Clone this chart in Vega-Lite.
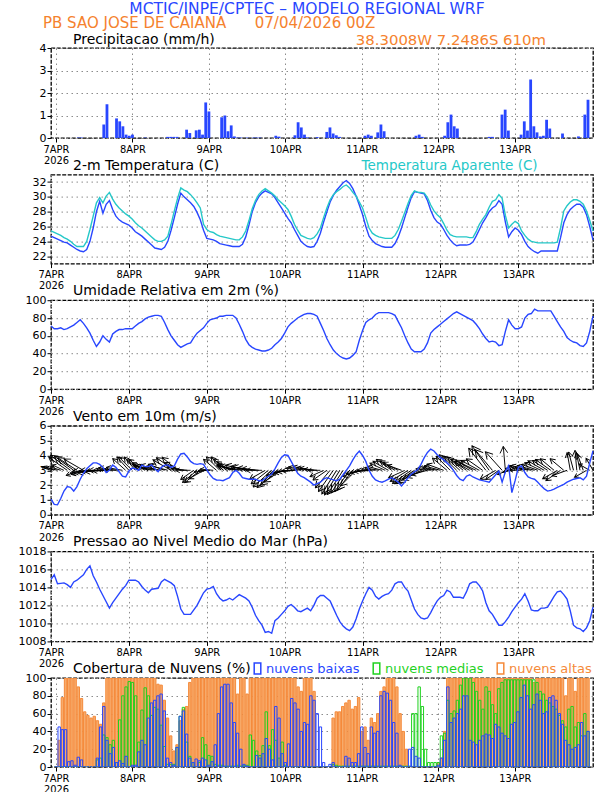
{
"$schema": "https://vega.github.io/schema/vega-lite/v6.json",
"background": "white",
"padding": {"left": 17, "top": 1, "right": 5, "bottom": 2},
"title": {"text": "MCTIC/INPE/CPTEC – MODELO REGIONAL WRF", "anchor": "middle", "frame": "bounds", "color": "#2846ff", "fontSize": 15.5, "dx": 0, "dy": 0, "offset": -2},
"datasets": {"met": [
{"h":0,"pr":0,"t":24.7,"ta":25.4,"rh":71,"ws":1.06,"wd":290,"wm":2,"p":1014.9,"cb":0,"cm":0,"ca":0},
{"h":1,"pr":0,"t":24.5,"ta":25.2,"rh":68,"ws":0.7,"wd":290,"wm":2.2,"p":1015.4,"cb":45,"cm":0,"ca":30},
{"h":2,"pr":0,"t":24.3,"ta":25.0,"rh":68,"ws":0.67,"wd":285,"wm":2.4,"p":1014.4,"cb":42,"cm":0,"ca":78},
{"h":3,"pr":0,"t":24.1,"ta":24.8,"rh":69,"ws":1.1,"wd":288,"wm":2.2,"p":1014.45,"cb":42,"cm":0,"ca":100},
{"h":4,"pr":0,"t":23.9,"ta":24.5,"rh":67,"ws":1.6,"wd":295,"wm":2.6,"p":1014.5,"cb":6,"cm":0,"ca":100},
{"h":5,"pr":0,"t":23.8,"ta":24.3,"rh":68,"ws":1.9,"wd":305,"wm":4.5,"p":1014.3,"cb":7,"cm":0,"ca":100},
{"h":6,"pr":0,"t":23.5,"ta":24.0,"rh":70,"ws":1.85,"wd":307,"wm":5,"p":1014.0,"cb":2,"cm":0,"ca":100},
{"h":7,"pr":0.02,"t":23.2,"ta":23.6,"rh":72,"ws":1.6,"wd":306,"wm":4.8,"p":1014.6,"cb":11,"cm":0,"ca":90},
{"h":8,"pr":0.02,"t":22.9,"ta":23.3,"rh":75,"ws":1.9,"wd":303,"wm":4.6,"p":1014.8,"cb":8,"cm":0,"ca":77},
{"h":9,"pr":0,"t":22.7,"ta":23.3,"rh":78,"ws":2.4,"wd":250,"wm":3,"p":1015.1,"cb":0,"cm":0,"ca":62},
{"h":10,"pr":0,"t":22.6,"ta":23.3,"rh":74,"ws":2.8,"wd":300,"wm":4.5,"p":1015.4,"cb":0,"cm":0,"ca":58},
{"h":11,"pr":0,"t":22.9,"ta":24.0,"rh":69,"ws":3.1,"wd":255,"wm":3.2,"p":1016.0,"cb":0,"cm":0,"ca":55},
{"h":12,"pr":0,"t":24.0,"ta":25.6,"rh":63,"ws":3.3,"wd":262,"wm":4,"p":1016.4,"cb":0,"cm":0,"ca":57},
{"h":13,"pr":0,"t":25.8,"ta":27.4,"rh":55,"ws":3.5,"wd":265,"wm":4.2,"p":1015.3,"cb":10,"cm":8,"ca":52},
{"h":14,"pr":0,"t":28.0,"ta":29.2,"rh":48,"ws":3.5,"wd":262,"wm":3.8,"p":1014.6,"cb":45,"cm":10,"ca":48},
{"h":15,"pr":0.6,"t":29.4,"ta":29.9,"rh":53,"ws":3.4,"wd":268,"wm":4,"p":1013.8,"cb":68,"cm":36,"ca":72},
{"h":16,"pr":1.5,"t":27.8,"ta":29.2,"rh":60,"ws":3.2,"wd":265,"wm":3.6,"p":1013.1,"cb":30,"cm":33,"ca":100},
{"h":17,"pr":0,"t":29.0,"ta":30.1,"rh":56,"ws":2.85,"wd":270,"wm":3.5,"p":1012.4,"cb":15,"cm":25,"ca":100},
{"h":18,"pr":0,"t":29.5,"ta":30.6,"rh":53,"ws":3.0,"wd":268,"wm":3.4,"p":1011.7,"cb":22,"cm":30,"ca":100},
{"h":19,"pr":0.87,"t":28.3,"ta":29.7,"rh":62,"ws":3.35,"wd":275,"wm":3.2,"p":1012.3,"cb":5,"cm":5,"ca":100},
{"h":20,"pr":0.74,"t":27.4,"ta":29.0,"rh":65,"ws":3.2,"wd":278,"wm":3.5,"p":1012.8,"cb":7,"cm":53,"ca":100},
{"h":21,"pr":0.52,"t":26.9,"ta":28.5,"rh":67,"ws":2.9,"wd":272,"wm":3.2,"p":1013.3,"cb":4,"cm":80,"ca":100},
{"h":22,"pr":0.15,"t":26.6,"ta":28.1,"rh":67,"ws":2.6,"wd":280,"wm":3.3,"p":1013.8,"cb":12,"cm":90,"ca":100},
{"h":23,"pr":0.1,"t":26.4,"ta":27.7,"rh":68,"ws":2.55,"wd":312,"wm":3.5,"p":1014.2,"cb":0,"cm":96,"ca":100},
{"h":24,"pr":0.15,"t":26.2,"ta":27.4,"rh":68,"ws":2.95,"wd":318,"wm":3.6,"p":1014.8,"cb":2,"cm":95,"ca":100},
{"h":25,"pr":0,"t":25.8,"ta":27.0,"rh":68,"ws":3.15,"wd":315,"wm":3.8,"p":1014.8,"cb":2,"cm":80,"ca":100},
{"h":26,"pr":0,"t":25.3,"ta":26.5,"rh":71,"ws":3.1,"wd":320,"wm":3.5,"p":1014.8,"cb":17,"cm":28,"ca":100},
{"h":27,"pr":0,"t":25.0,"ta":26.1,"rh":74,"ws":3.0,"wd":312,"wm":3.2,"p":1014.6,"cb":30,"cm":64,"ca":100},
{"h":28,"pr":0.02,"t":24.7,"ta":25.8,"rh":76,"ws":3.35,"wd":310,"wm":3.4,"p":1014.1,"cb":25,"cm":89,"ca":100},
{"h":29,"pr":0,"t":24.3,"ta":25.4,"rh":79,"ws":3.25,"wd":300,"wm":3,"p":1013.7,"cb":55,"cm":80,"ca":100},
{"h":30,"pr":0,"t":23.9,"ta":25.0,"rh":81,"ws":3.25,"wd":290,"wm":3.4,"p":1013.4,"cb":72,"cm":58,"ca":100},
{"h":31,"pr":0,"t":23.5,"ta":24.6,"rh":82,"ws":3.37,"wd":285,"wm":3.6,"p":1013.8,"cb":75,"cm":67,"ca":100},
{"h":32,"pr":0,"t":23.1,"ta":24.2,"rh":83,"ws":3.1,"wd":282,"wm":4,"p":1013.85,"cb":80,"cm":65,"ca":93},
{"h":33,"pr":0,"t":23.0,"ta":24.0,"rh":83,"ws":2.9,"wd":286,"wm":3.8,"p":1013.9,"cb":82,"cm":47,"ca":92},
{"h":34,"pr":0,"t":22.9,"ta":24.0,"rh":82,"ws":3.2,"wd":280,"wm":3.6,"p":1014.6,"cb":63,"cm":23,"ca":75},
{"h":35,"pr":0.05,"t":23.2,"ta":24.2,"rh":75,"ws":3.35,"wd":290,"wm":3.5,"p":1014.9,"cb":10,"cm":3,"ca":55},
{"h":36,"pr":0.05,"t":24.0,"ta":24.7,"rh":67,"ws":3.35,"wd":285,"wm":3.8,"p":1014.7,"cb":5,"cm":3,"ca":35},
{"h":37,"pr":0.05,"t":25.5,"ta":26.3,"rh":60,"ws":3.2,"wd":300,"wm":4.2,"p":1014.5,"cb":2,"cm":3,"ca":18},
{"h":38,"pr":0.05,"t":27.2,"ta":28.1,"rh":55,"ws":3.3,"wd":305,"wm":4.4,"p":1014.2,"cb":22,"cm":22,"ca":25},
{"h":39,"pr":0,"t":29.0,"ta":29.8,"rh":50,"ws":3.75,"wd":310,"wm":4,"p":1013.0,"cb":57,"cm":57,"ca":52},
{"h":40,"pr":0,"t":30.5,"ta":31.2,"rh":47,"ws":4.1,"wd":295,"wm":3.6,"p":1011.6,"cb":63,"cm":67,"ca":65},
{"h":41,"pr":0.37,"t":30.0,"ta":30.9,"rh":49,"ws":4.15,"wd":280,"wm":3.4,"p":1011.0,"cb":37,"cm":28,"ca":68},
{"h":42,"pr":0.22,"t":29.6,"ta":30.7,"rh":51,"ws":3.9,"wd":275,"wm":3.2,"p":1011.0,"cb":10,"cm":12,"ca":95},
{"h":43,"pr":0,"t":29.2,"ta":30.3,"rh":52,"ws":3.6,"wd":270,"wm":3,"p":1011.0,"cb":5,"cm":5,"ca":100},
{"h":44,"pr":0.34,"t":28.7,"ta":29.8,"rh":58,"ws":3.45,"wd":235,"wm":3.2,"p":1011.5,"cb":9,"cm":0,"ca":100},
{"h":45,"pr":0.37,"t":27.9,"ta":29.2,"rh":63,"ws":3.4,"wd":230,"wm":3.8,"p":1012.0,"cb":7,"cm":5,"ca":100},
{"h":46,"pr":0.15,"t":26.9,"ta":28.5,"rh":66,"ws":3.45,"wd":232,"wm":4,"p":1012.7,"cb":10,"cm":33,"ca":100},
{"h":47,"pr":1.58,"t":25.5,"ta":26.3,"rh":69,"ws":3.4,"wd":240,"wm":3.4,"p":1013.4,"cb":8,"cm":25,"ca":100},
{"h":48,"pr":1.18,"t":24.4,"ta":25.6,"rh":74,"ws":3.05,"wd":262,"wm":2.6,"p":1013.8,"cb":2,"cm":13,"ca":100},
{"h":49,"pr":0,"t":24.3,"ta":25.3,"rh":78,"ws":2.7,"wd":268,"wm":2.4,"p":1013.9,"cb":6,"cm":12,"ca":100},
{"h":50,"pr":0,"t":24.2,"ta":25.2,"rh":79,"ws":2.45,"wd":275,"wm":2.6,"p":1014.1,"cb":25,"cm":3,"ca":100},
{"h":51,"pr":0,"t":24.0,"ta":24.9,"rh":80,"ws":2.35,"wd":310,"wm":3.4,"p":1013.3,"cb":60,"cm":2,"ca":100},
{"h":52,"pr":0.92,"t":23.7,"ta":24.7,"rh":82,"ws":2.34,"wd":315,"wm":3.8,"p":1012.8,"cb":90,"cm":2,"ca":100},
{"h":53,"pr":1.0,"t":23.6,"ta":24.6,"rh":82,"ws":2.3,"wd":318,"wm":3.6,"p":1012.5,"cb":93,"cm":1,"ca":100},
{"h":54,"pr":0.3,"t":23.5,"ta":24.5,"rh":83,"ws":2.4,"wd":312,"wm":3.4,"p":1012.6,"cb":93,"cm":1,"ca":100},
{"h":55,"pr":0.56,"t":23.4,"ta":24.4,"rh":83,"ws":2.5,"wd":305,"wm":3,"p":1012.8,"cb":72,"cm":1,"ca":100},
{"h":56,"pr":0.07,"t":23.3,"ta":24.3,"rh":83,"ws":2.85,"wd":290,"wm":3.4,"p":1012.6,"cb":50,"cm":1,"ca":100},
{"h":57,"pr":0.02,"t":23.3,"ta":24.2,"rh":80,"ws":3.0,"wd":283,"wm":4,"p":1012.9,"cb":38,"cm":2,"ca":82},
{"h":58,"pr":0.02,"t":23.3,"ta":24.2,"rh":73,"ws":2.8,"wd":282,"wm":4.2,"p":1013.2,"cb":20,"cm":1,"ca":100},
{"h":59,"pr":0,"t":23.6,"ta":24.6,"rh":65,"ws":2.5,"wd":280,"wm":4,"p":1013.0,"cb":3,"cm":2,"ca":100},
{"h":60,"pr":0.02,"t":24.6,"ta":25.4,"rh":56,"ws":2.45,"wd":284,"wm":4.2,"p":1012.8,"cb":1,"cm":2,"ca":82},
{"h":61,"pr":0,"t":26.2,"ta":26.8,"rh":50,"ws":2.4,"wd":282,"wm":3.8,"p":1012.5,"cb":0,"cm":36,"ca":100},
{"h":62,"pr":0.02,"t":28.0,"ta":28.4,"rh":47,"ws":2.4,"wd":280,"wm":4,"p":1011.8,"cb":0,"cm":30,"ca":100},
{"h":63,"pr":0.02,"t":29.2,"ta":29.5,"rh":45,"ws":2.4,"wd":278,"wm":3.6,"p":1010.9,"cb":13,"cm":18,"ca":100},
{"h":64,"pr":0.02,"t":30.0,"ta":30.3,"rh":44,"ws":2.3,"wd":276,"wm":3.4,"p":1010.3,"cb":10,"cm":13,"ca":100},
{"h":65,"pr":0,"t":30.5,"ta":30.8,"rh":43,"ws":2.3,"wd":270,"wm":3.2,"p":1009.8,"cb":15,"cm":24,"ca":100},
{"h":66,"pr":0,"t":30.8,"ta":31.1,"rh":43,"ws":2.45,"wd":240,"wm":3.6,"p":1009.0,"cb":32,"cm":62,"ca":100},
{"h":67,"pr":0,"t":30.6,"ta":30.8,"rh":44,"ws":2.6,"wd":232,"wm":4.4,"p":1009.1,"cb":20,"cm":24,"ca":100},
{"h":68,"pr":0,"t":30.4,"ta":30.5,"rh":46,"ws":2.75,"wd":228,"wm":5,"p":1008.9,"cb":8,"cm":42,"ca":100},
{"h":69,"pr":0.1,"t":29.9,"ta":30.1,"rh":50,"ws":3.1,"wd":226,"wm":5,"p":1010.3,"cb":68,"cm":30,"ca":100},
{"h":70,"pr":0.06,"t":29.2,"ta":29.6,"rh":53,"ws":3.5,"wd":230,"wm":4.6,"p":1010.6,"cb":55,"cm":10,"ca":100},
{"h":71,"pr":0,"t":28.5,"ta":29.2,"rh":57,"ws":3.87,"wd":236,"wm":4.2,"p":1011.0,"cb":15,"cm":28,"ca":100},
{"h":72,"pr":0,"t":27.8,"ta":28.8,"rh":63,"ws":4.05,"wd":255,"wm":3.8,"p":1011.4,"cb":5,"cm":2,"ca":100},
{"h":73,"pr":0,"t":27.1,"ta":28.3,"rh":70,"ws":4.0,"wd":260,"wm":3.6,"p":1011.9,"cb":26,"cm":0,"ca":100},
{"h":74,"pr":0,"t":26.5,"ta":27.4,"rh":74,"ws":3.6,"wd":262,"wm":3.5,"p":1012.1,"cb":77,"cm":0,"ca":100},
{"h":75,"pr":0.12,"t":25.6,"ta":26.3,"rh":77,"ws":3.2,"wd":265,"wm":3.4,"p":1011.8,"cb":72,"cm":0,"ca":100},
{"h":76,"pr":0.7,"t":24.8,"ta":25.5,"rh":80,"ws":2.8,"wd":268,"wm":3.2,"p":1011.4,"cb":65,"cm":0,"ca":90},
{"h":77,"pr":0.47,"t":24.0,"ta":24.8,"rh":82,"ws":2.6,"wd":278,"wm":3,"p":1011.3,"cb":40,"cm":0,"ca":85},
{"h":78,"pr":0.15,"t":23.6,"ta":24.6,"rh":84,"ws":2.5,"wd":282,"wm":3.2,"p":1011.5,"cb":50,"cm":0,"ca":100},
{"h":79,"pr":0.03,"t":23.3,"ta":24.4,"rh":85,"ws":2.35,"wd":285,"wm":3,"p":1011.7,"cb":48,"cm":0,"ca":100},
{"h":80,"pr":0,"t":23.2,"ta":24.3,"rh":85,"ws":2.2,"wd":282,"wm":2.8,"p":1011.4,"cb":80,"cm":0,"ca":100},
{"h":81,"pr":0,"t":23.3,"ta":24.5,"rh":84,"ws":2.0,"wd":280,"wm":2.8,"p":1012.0,"cb":75,"cm":0,"ca":85},
{"h":82,"pr":0.04,"t":24.0,"ta":25.0,"rh":82,"ws":2.1,"wd":275,"wm":2.6,"p":1012.8,"cb":60,"cm":0,"ca":0},
{"h":83,"pr":0,"t":25.1,"ta":25.8,"rh":74,"ws":2.2,"wd":270,"wm":2.5,"p":1013.1,"cb":45,"cm":0,"ca":0},
{"h":84,"pr":0,"t":26.6,"ta":27.2,"rh":66,"ws":2.4,"wd":245,"wm":3,"p":1013.1,"cb":5,"cm":0,"ca":0},
{"h":85,"pr":0.27,"t":28.0,"ta":28.5,"rh":57,"ws":2.5,"wd":235,"wm":3.4,"p":1012.8,"cb":0,"cm":0,"ca":0},
{"h":86,"pr":0.47,"t":29.3,"ta":29.6,"rh":50,"ws":2.42,"wd":220,"wm":4.6,"p":1012.5,"cb":3,"cm":0,"ca":0},
{"h":87,"pr":0.2,"t":30.2,"ta":30.3,"rh":44,"ws":2.35,"wd":215,"wm":5.2,"p":1011.7,"cb":5,"cm":3,"ca":55},
{"h":88,"pr":0.12,"t":30.9,"ta":30.7,"rh":40,"ws":2.3,"wd":212,"wm":5.6,"p":1010.9,"cb":0,"cm":2,"ca":62},
{"h":89,"pr":0.05,"t":31.4,"ta":31.0,"rh":37,"ws":2.4,"wd":212,"wm":5.8,"p":1010.2,"cb":0,"cm":1,"ca":62},
{"h":90,"pr":0,"t":31.9,"ta":31.4,"rh":35,"ws":2.7,"wd":213,"wm":5.8,"p":1009.7,"cb":0,"cm":1,"ca":68},
{"h":91,"pr":0,"t":32.2,"ta":31.6,"rh":34,"ws":3.0,"wd":214,"wm":5.5,"p":1009.4,"cb":12,"cm":1,"ca":72},
{"h":92,"pr":0,"t":31.8,"ta":31.2,"rh":35,"ws":3.3,"wd":215,"wm":5.2,"p":1009.2,"cb":10,"cm":1,"ca":75},
{"h":93,"pr":0,"t":31.1,"ta":30.6,"rh":38,"ws":3.7,"wd":218,"wm":5,"p":1009.6,"cb":5,"cm":1,"ca":65},
{"h":94,"pr":0,"t":30.1,"ta":30.1,"rh":42,"ws":4.05,"wd":225,"wm":4.4,"p":1010.5,"cb":5,"cm":1,"ca":68},
{"h":95,"pr":0,"t":28.9,"ta":29.3,"rh":55,"ws":4.3,"wd":250,"wm":3.6,"p":1011.6,"cb":15,"cm":1,"ca":78},
{"h":96,"pr":0,"t":27.6,"ta":28.5,"rh":66,"ws":4.0,"wd":258,"wm":3.4,"p":1012.5,"cb":45,"cm":1,"ca":40},
{"h":97,"pr":0.1,"t":26.0,"ta":27.2,"rh":75,"ws":3.6,"wd":262,"wm":3.2,"p":1013.3,"cb":22,"cm":1,"ca":45},
{"h":98,"pr":0.15,"t":24.7,"ta":25.8,"rh":78,"ws":3.0,"wd":265,"wm":3,"p":1014.0,"cb":15,"cm":1,"ca":30},
{"h":99,"pr":0.1,"t":24.1,"ta":25.1,"rh":80,"ws":2.6,"wd":270,"wm":3,"p":1013.7,"cb":45,"cm":1,"ca":55},
{"h":100,"pr":0,"t":23.7,"ta":24.8,"rh":84,"ws":2.35,"wd":275,"wm":2.8,"p":1013.0,"cb":38,"cm":1,"ca":50},
{"h":101,"pr":0.25,"t":23.5,"ta":24.6,"rh":86,"ws":2.25,"wd":280,"wm":2.8,"p":1012.7,"cb":40,"cm":1,"ca":60},
{"h":102,"pr":0.6,"t":23.3,"ta":24.5,"rh":86,"ws":2.2,"wd":285,"wm":3,"p":1013.0,"cb":80,"cm":1,"ca":85},
{"h":103,"pr":0.3,"t":23.2,"ta":24.4,"rh":86,"ws":2.28,"wd":295,"wm":3.4,"p":1013.2,"cb":85,"cm":1,"ca":90},
{"h":104,"pr":0,"t":23.2,"ta":24.4,"rh":86,"ws":2.4,"wd":300,"wm":3.6,"p":1013.3,"cb":83,"cm":1,"ca":100},
{"h":105,"pr":0,"t":23.2,"ta":24.4,"rh":85,"ws":2.5,"wd":305,"wm":3.8,"p":1013.7,"cb":75,"cm":1,"ca":100},
{"h":106,"pr":0,"t":23.7,"ta":24.8,"rh":83,"ws":2.35,"wd":302,"wm":3.6,"p":1014.4,"cb":50,"cm":1,"ca":100},
{"h":107,"pr":0,"t":24.6,"ta":25.6,"rh":76,"ws":2.2,"wd":298,"wm":3.4,"p":1014.6,"cb":38,"cm":1,"ca":90},
{"h":108,"pr":0,"t":25.8,"ta":26.7,"rh":69,"ws":1.95,"wd":290,"wm":3,"p":1014.6,"cb":2,"cm":1,"ca":60},
{"h":109,"pr":0,"t":27.2,"ta":27.9,"rh":60,"ws":2.2,"wd":245,"wm":3.6,"p":1014.0,"cb":0,"cm":1,"ca":40},
{"h":110,"pr":0,"t":28.6,"ta":29.1,"rh":52,"ws":2.5,"wd":238,"wm":4.2,"p":1013.6,"cb":0,"cm":1,"ca":20},
{"h":111,"pr":0,"t":29.9,"ta":30.2,"rh":45,"ws":2.74,"wd":235,"wm":4.6,"p":1012.6,"cb":20,"cm":1,"ca":0},
{"h":112,"pr":0,"t":30.7,"ta":30.8,"rh":42,"ws":2.9,"wd":236,"wm":4.8,"p":1011.6,"cb":22,"cm":60,"ca":0},
{"h":113,"pr":0.1,"t":30.6,"ta":30.6,"rh":42,"ws":3.05,"wd":238,"wm":4.6,"p":1011.0,"cb":12,"cm":60,"ca":0},
{"h":114,"pr":0.15,"t":30.5,"ta":30.6,"rh":42,"ws":3.4,"wd":242,"wm":4.2,"p":1010.6,"cb":10,"cm":90,"ca":0},
{"h":115,"pr":0.05,"t":30.4,"ta":30.5,"rh":45,"ws":3.85,"wd":248,"wm":3.8,"p":1010.5,"cb":0,"cm":68,"ca":0},
{"h":116,"pr":0,"t":29.5,"ta":29.9,"rh":52,"ws":4.2,"wd":255,"wm":3.4,"p":1010.6,"cb":0,"cm":20,"ca":0},
{"h":117,"pr":0,"t":28.2,"ta":28.9,"rh":63,"ws":4.43,"wd":275,"wm":3,"p":1011.2,"cb":0,"cm":5,"ca":0},
{"h":118,"pr":0,"t":27.2,"ta":28.1,"rh":67,"ws":4.3,"wd":280,"wm":3.2,"p":1011.9,"cb":0,"cm":5,"ca":0},
{"h":119,"pr":0,"t":26.6,"ta":27.6,"rh":70,"ws":4.05,"wd":282,"wm":3,"p":1012.5,"cb":0,"cm":5,"ca":0},
{"h":120,"pr":0,"t":26.3,"ta":27.2,"rh":73,"ws":3.85,"wd":285,"wm":3.4,"p":1012.9,"cb":2,"cm":5,"ca":5},
{"h":121,"pr":0,"t":25.6,"ta":26.4,"rh":76,"ws":3.7,"wd":290,"wm":3.6,"p":1013.1,"cb":10,"cm":35,"ca":10},
{"h":122,"pr":0.1,"t":24.8,"ta":25.5,"rh":79,"ws":3.5,"wd":310,"wm":3.8,"p":1013.7,"cb":30,"cm":38,"ca":40},
{"h":123,"pr":0.7,"t":24.2,"ta":24.9,"rh":82,"ws":3.3,"wd":315,"wm":4,"p":1013.5,"cb":90,"cm":75,"ca":100},
{"h":124,"pr":1.04,"t":23.7,"ta":24.7,"rh":85,"ws":3.0,"wd":318,"wm":4.2,"p":1012.9,"cb":50,"cm":60,"ca":100},
{"h":125,"pr":0.52,"t":23.4,"ta":24.6,"rh":87,"ws":2.65,"wd":315,"wm":4,"p":1012.9,"cb":55,"cm":63,"ca":100},
{"h":126,"pr":0.42,"t":23.5,"ta":24.6,"rh":85,"ws":2.4,"wd":312,"wm":4.2,"p":1012.9,"cb":60,"cm":75,"ca":100},
{"h":127,"pr":0,"t":23.5,"ta":24.6,"rh":83,"ws":2.3,"wd":310,"wm":4,"p":1012.8,"cb":65,"cm":92,"ca":100},
{"h":128,"pr":0,"t":23.5,"ta":24.6,"rh":81,"ws":2.6,"wd":305,"wm":3.8,"p":1013.5,"cb":80,"cm":100,"ca":100},
{"h":129,"pr":0,"t":23.6,"ta":24.5,"rh":79,"ws":2.7,"wd":300,"wm":3.6,"p":1014.4,"cb":80,"cm":100,"ca":100},
{"h":130,"pr":0,"t":23.9,"ta":24.5,"rh":77,"ws":2.55,"wd":300,"wm":4,"p":1014.6,"cb":30,"cm":100,"ca":100},
{"h":131,"pr":0,"t":24.7,"ta":25.3,"rh":73,"ws":2.45,"wd":295,"wm":3.8,"p":1014.6,"cb":28,"cm":95,"ca":100},
{"h":132,"pr":0,"t":25.6,"ta":26.3,"rh":68,"ws":2.35,"wd":298,"wm":4.2,"p":1014.2,"cb":25,"cm":85,"ca":100},
{"h":133,"pr":0,"t":26.5,"ta":27.0,"rh":62,"ws":2.3,"wd":305,"wm":4,"p":1013.6,"cb":30,"cm":75,"ca":100},
{"h":134,"pr":0,"t":27.2,"ta":27.6,"rh":57,"ws":2.25,"wd":322,"wm":5.6,"p":1012.3,"cb":35,"cm":65,"ca":100},
{"h":135,"pr":0,"t":28.0,"ta":28.6,"rh":53,"ws":2.2,"wd":325,"wm":6,"p":1011.4,"cb":37,"cm":90,"ca":100},
{"h":136,"pr":0.05,"t":28.5,"ta":29.4,"rh":54,"ws":2.45,"wd":320,"wm":5.4,"p":1011.0,"cb":36,"cm":85,"ca":100},
{"h":137,"pr":0.05,"t":28.8,"ta":29.6,"rh":53,"ws":2.7,"wd":240,"wm":3.6,"p":1010.4,"cb":32,"cm":70,"ca":100},
{"h":138,"pr":0,"t":29.5,"ta":30.3,"rh":49,"ws":2.95,"wd":235,"wm":3.2,"p":1009.8,"cb":48,"cm":60,"ca":100},
{"h":139,"pr":0,"t":29.0,"ta":29.8,"rh":50,"ws":2.2,"wd":318,"wm":5,"p":1009.8,"cb":45,"cm":88,"ca":100},
{"h":140,"pr":1.04,"t":26.6,"ta":27.5,"rh":65,"ws":2.9,"wd":355,"wm":4.8,"p":1010.2,"cb":38,"cm":95,"ca":100},
{"h":141,"pr":1.26,"t":24.6,"ta":25.8,"rh":78,"ws":3.3,"wd":250,"wm":2.4,"p":1010.7,"cb":35,"cm":98,"ca":100},
{"h":142,"pr":0.33,"t":25.3,"ta":26.3,"rh":72,"ws":1.5,"wd":260,"wm":1.8,"p":1011.3,"cb":32,"cm":98,"ca":100},
{"h":143,"pr":0,"t":25.8,"ta":26.7,"rh":68,"ws":2.3,"wd":280,"wm":2,"p":1011.8,"cb":48,"cm":98,"ca":100},
{"h":144,"pr":0,"t":25.5,"ta":26.4,"rh":68,"ws":3.2,"wd":295,"wm":2.2,"p":1012.3,"cb":50,"cm":98,"ca":100},
{"h":145,"pr":0,"t":24.9,"ta":25.4,"rh":70,"ws":3.3,"wd":270,"wm":2.4,"p":1012.7,"cb":62,"cm":98,"ca":100},
{"h":146,"pr":0.15,"t":24.0,"ta":24.8,"rh":80,"ws":2.85,"wd":283,"wm":3.4,"p":1013.3,"cb":78,"cm":98,"ca":100},
{"h":147,"pr":0.74,"t":23.3,"ta":24.3,"rh":84,"ws":2.55,"wd":285,"wm":3.6,"p":1012.5,"cb":92,"cm":98,"ca":100},
{"h":148,"pr":0.33,"t":22.9,"ta":24.0,"rh":85,"ws":2.45,"wd":282,"wm":3.4,"p":1011.5,"cb":80,"cm":98,"ca":100},
{"h":149,"pr":2.6,"t":22.6,"ta":23.9,"rh":90,"ws":2.4,"wd":285,"wm":3.6,"p":1011.4,"cb":65,"cm":98,"ca":100},
{"h":150,"pr":0.52,"t":22.4,"ta":23.8,"rh":88,"ws":2.2,"wd":290,"wm":3.4,"p":1011.4,"cb":70,"cm":98,"ca":95},
{"h":151,"pr":0.25,"t":22.7,"ta":23.8,"rh":88,"ws":1.95,"wd":295,"wm":3.6,"p":1011.7,"cb":82,"cm":95,"ca":100},
{"h":152,"pr":0.07,"t":22.7,"ta":23.8,"rh":88,"ws":1.75,"wd":300,"wm":3.8,"p":1011.7,"cb":75,"cm":85,"ca":100},
{"h":153,"pr":0.1,"t":22.7,"ta":23.8,"rh":88,"ws":1.6,"wd":303,"wm":3.6,"p":1011.8,"cb":60,"cm":82,"ca":100},
{"h":154,"pr":0.81,"t":22.7,"ta":23.8,"rh":88,"ws":1.65,"wd":305,"wm":3.8,"p":1012.4,"cb":62,"cm":75,"ca":100},
{"h":155,"pr":0.42,"t":22.7,"ta":23.8,"rh":82,"ws":1.73,"wd":310,"wm":3.6,"p":1013.0,"cb":78,"cm":72,"ca":100},
{"h":156,"pr":0,"t":22.7,"ta":23.9,"rh":76,"ws":1.85,"wd":240,"wm":3.4,"p":1013.5,"cb":80,"cm":68,"ca":100},
{"h":157,"pr":0,"t":24.5,"ta":25.8,"rh":70,"ws":1.95,"wd":235,"wm":3.6,"p":1013.6,"cb":75,"cm":65,"ca":100},
{"h":158,"pr":0,"t":26.5,"ta":28.1,"rh":65,"ws":2.05,"wd":310,"wm":3.6,"p":1013.2,"cb":60,"cm":58,"ca":100},
{"h":159,"pr":0.2,"t":27.6,"ta":28.8,"rh":58,"ws":2.2,"wd":250,"wm":3.2,"p":1012.7,"cb":48,"cm":52,"ca":100},
{"h":160,"pr":0,"t":28.3,"ta":29.3,"rh":55,"ws":2.3,"wd":350,"wm":3.6,"p":1011.4,"cb":30,"cm":45,"ca":80},
{"h":161,"pr":0,"t":28.7,"ta":29.6,"rh":53,"ws":2.4,"wd":345,"wm":3.8,"p":1009.8,"cb":25,"cm":65,"ca":100},
{"h":162,"pr":0,"t":29.0,"ta":29.6,"rh":52,"ws":2.45,"wd":355,"wm":4,"p":1009.5,"cb":20,"cm":68,"ca":100},
{"h":163,"pr":0,"t":29.0,"ta":29.4,"rh":49,"ws":2.5,"wd":348,"wm":3.6,"p":1009.4,"cb":22,"cm":45,"ca":85},
{"h":164,"pr":0.07,"t":28.6,"ta":29.0,"rh":48,"ws":2.35,"wd":340,"wm":3.4,"p":1009.1,"cb":25,"cm":50,"ca":100},
{"h":165,"pr":0,"t":27.6,"ta":28.1,"rh":52,"ws":2.6,"wd":240,"wm":2.8,"p":1009.5,"cb":50,"cm":35,"ca":100},
{"h":166,"pr":1.04,"t":26.0,"ta":26.8,"rh":65,"ws":3.5,"wd":300,"wm":2.5,"p":1010.3,"cb":35,"cm":60,"ca":100},
{"h":167,"pr":1.7,"t":24.2,"ta":25.4,"rh":82,"ws":4.3,"wd":330,"wm":2.8,"p":1011.8,"cb":40,"cm":40,"ca":100}
]},
"data": {"name": "met"},
"spacing": 36.6,
"bounds": "flush",
"resolve": {"scale": {"color": "independent", "stroke": "independent", "size": "independent", "angle": "independent"}, "legend": {"color": "independent", "stroke": "independent"}},
"config": {
  "font": "DejaVu Sans",
  "view": {"stroke": "#000", "strokeWidth": 1.3, "strokeDash": [4, 1.5]},
  "axis": {"labelFont": "DejaVu Sans", "labelFontSize": 11, "labelColor": "#000", "tickColor": "#000", "tickSize": 4, "labelPadding": 1, "domain": false, "grid": true, "gridColor": "#8c8c8c", "gridDash": [1.5, 3.5], "gridWidth": 1, "labelOverlap": false},
  "axisX": {"labelFont": "DejaVu Sans Condensed, DejaVu Sans", "labelFontSize": 11, "labelFlush": false, "labelLineHeight": 11.3, "labelPadding": 1, "labelBaseline": "top"},
  "axisY": {"format": "d"},
  "title": {"anchor": "start", "frame": "group", "font": "DejaVu Sans", "fontSize": 14, "fontWeight": "normal", "color": "#000", "offset": 1, "dx": 22},
  "legend": {"labelFont": "DejaVu Sans"}
},
"vconcat": [
{
  "width": 542, "height": 90,
  "title": {"text": "Precipitacao (mm/h)", "dy": 31.5},
  "layer": [
    {"mark": {"type": "bar", "color": "#2846ff", "width": 2.8, "clip": true},
     "encoding": {
       "x": {"field": "h", "type": "quantitative", "scale": {"domain": [0, 167], "nice": false, "zero": false}, "axis": {"values": [0, 24, 48, 72, 96, 120, 144], "labelExpr": "datum.value == 0 ? ['7APR', '2026'] : (7 + datum.value / 24) + 'APR'", "title": null}},
       "y": {"field": "pr", "type": "quantitative", "stack": null, "scale": {"domain": [0, 4], "nice": false}, "axis": {"values": [0, 1, 2, 3, 4], "title": null}}}},
    {"data": {"values": [{"local": "PB SAO JOSE DE CAIANA\u00a0\u00a0\u00a0\u00a0\u00a0\u00a007/04/2026 00Z", "coord": "38.3008W 7.2486S 610m"}]},
     "mark": {"type": "text", "align": "right", "baseline": "alphabetic", "color": "#f5822e", "fontSize": 14.9, "dx": -42, "dy": -3},
     "encoding": {"x": {"datum": 167, "type": "quantitative", "axis": {"values": [0, 24, 48, 72, 96, 120, 144], "labelExpr": "datum.value == 0 ? ['7APR', '2026'] : (7 + datum.value / 24) + 'APR'", "title": null}}, "y": {"datum": 4, "type": "quantitative", "axis": {"values": [0, 1, 2, 3, 4], "title": null}}, "text": {"field": "coord"}}},
    {"data": {"values": [{"local": "PB SAO JOSE DE CAIANA\u00a0\u00a0\u00a0\u00a0\u00a0\u00a007/04/2026 00Z", "coord": "38.3008W 7.2486S 610m"}]},
     "mark": {"type": "text", "align": "left", "baseline": "alphabetic", "color": "#f5822e", "fontSize": 15, "dx": -13, "dy": -20},
     "encoding": {"x": {"datum": 0, "type": "quantitative", "axis": {"values": [0, 24, 48, 72, 96, 120, 144], "labelExpr": "datum.value == 0 ? ['7APR', '2026'] : (7 + datum.value / 24) + 'APR'", "title": null}}, "y": {"datum": 4, "type": "quantitative", "axis": {"values": [0, 1, 2, 3, 4], "title": null}}, "text": {"field": "local"}}}
  ]
},
{
  "width": 542, "height": 89,
  "title": {"text": "2-m Temperatura (C)", "dy": 14.6},
  "layer": [
    {"mark": {"type": "line", "color": "#2846ff", "strokeWidth": 1.4},
     "encoding": {
       "x": {"field": "h", "type": "quantitative", "scale": {"domain": [0, 167], "nice": false, "zero": false}, "axis": {"values": [0, 24, 48, 72, 96, 120, 144], "labelExpr": "datum.value == 0 ? ['7APR', '2026'] : (7 + datum.value / 24) + 'APR'", "title": null}},
       "y": {"field": "t", "type": "quantitative", "scale": {"domain": [21, 33], "nice": false, "zero": false}, "axis": {"values": [22, 24, 26, 28, 30, 32], "title": null}}}},
    {"mark": {"type": "line", "strokeWidth": 1.4},
     "encoding": {
       "x": {"field": "h", "type": "quantitative", "axis": {"values": [0, 24, 48, 72, 96, 120, 144], "labelExpr": "datum.value == 0 ? ['7APR', '2026'] : (7 + datum.value / 24) + 'APR'", "title": null}},
       "y": {"field": "ta", "type": "quantitative", "axis": {"values": [22, 24, 26, 28, 30, 32], "title": null}},
       "color": {"datum": "Temperatura Aparente (C)", "type": "nominal", "scale": {"range": ["#25c8c8"]},
         "legend": {"orient": "none", "legendX": 297, "legendY": -15, "title": null, "symbolOpacity": 0, "symbolSize": 0, "symbolStrokeWidth": 0, "labelColor": "#25c8c8", "labelFontSize": 13.5, "labelOffset": 0, "labelLimit": 0}}}}
  ]
},
{
  "width": 542, "height": 89,
  "title": {"text": "Umidade Relativa em 2m (%)", "dy": 5},
  "mark": {"type": "line", "color": "#2846ff", "strokeWidth": 1.4},
  "encoding": {
    "x": {"field": "h", "type": "quantitative", "scale": {"domain": [0, 167], "nice": false, "zero": false}, "axis": {"values": [0, 24, 48, 72, 96, 120, 144], "labelExpr": "datum.value == 0 ? ['7APR', '2026'] : (7 + datum.value / 24) + 'APR'", "title": null}},
    "y": {"field": "rh", "type": "quantitative", "scale": {"domain": [0, 100], "nice": false}, "axis": {"values": [0, 20, 40, 60, 80, 100], "title": null}}}
},
{
  "width": 542, "height": 89,
  "title": {"text": "Vento em 10m (m/s)", "dy": 5},
  "layer": [
    {"mark": {"type": "point", "shape": "M0,0L0,-1M-0.16,-0.72L0,-1L0.16,-0.72", "filled": false, "color": "#000", "strokeWidth": 0.9, "opacity": 1},
     "encoding": {
       "x": {"field": "h", "type": "quantitative", "scale": {"domain": [0, 167], "nice": false, "zero": false}, "axis": {"values": [0, 24, 48, 72, 96, 120, 144], "labelExpr": "datum.value == 0 ? ['7APR', '2026'] : (7 + datum.value / 24) + 'APR'", "title": null}},
       "y": {"datum": 3, "type": "quantitative", "scale": {"domain": [0, 6], "nice": false}, "axis": {"values": [0, 1, 2, 3, 4, 5, 6], "title": null}},
       "angle": {"field": "wd", "type": "quantitative", "scale": {"domain": [0, 360], "range": [0, 360]}, "legend": null},
       "size": {"field": "wm", "type": "quantitative", "scale": {"type": "pow", "exponent": 2, "domain": [0, 6], "range": [0, 3600]}, "legend": null}}},
    {"mark": {"type": "line", "color": "#2846ff", "strokeWidth": 1.4},
     "encoding": {
       "x": {"field": "h", "type": "quantitative", "axis": {"values": [0, 24, 48, 72, 96, 120, 144], "labelExpr": "datum.value == 0 ? ['7APR', '2026'] : (7 + datum.value / 24) + 'APR'", "title": null}},
       "y": {"field": "ws", "type": "quantitative", "axis": {"values": [0, 1, 2, 3, 4, 5, 6], "title": null}}}}
  ]
},
{
  "width": 542, "height": 90,
  "title": {"text": "Pressao ao Nivel Medio do Mar (hPa)", "dy": 5},
  "mark": {"type": "line", "color": "#2846ff", "strokeWidth": 1.4},
  "encoding": {
    "x": {"field": "h", "type": "quantitative", "scale": {"domain": [0, 167], "nice": false, "zero": false}, "axis": {"values": [0, 24, 48, 72, 96, 120, 144], "labelExpr": "datum.value == 0 ? ['7APR', '2026'] : (7 + datum.value / 24) + 'APR'", "title": null}},
    "y": {"field": "p", "type": "quantitative", "scale": {"domain": [1008, 1018], "nice": false, "zero": false}, "axis": {"values": [1008, 1010, 1012, 1014, 1016, 1018], "title": null}}}
},
{
  "width": 542, "height": 89,
  "title": {"text": "Cobertura de Nuvens (%)", "dy": 14.7},
  "layer": [
    {"mark": {"type": "bar", "width": 2.4, "color": "#f7ab6c", "clip": true},
     "encoding": {
       "x": {"field": "h", "type": "quantitative", "scale": {"domain": [0, 167], "nice": false, "zero": false}, "axis": {"values": [0, 24, 48, 72, 96, 120, 144], "labelExpr": "datum.value == 0 ? ['7APR', '2026'] : (7 + datum.value / 24) + 'APR'", "title": null}},
       "y": {"field": "ca", "type": "quantitative", "stack": null, "scale": {"domain": [0, 100], "nice": false}, "axis": {"values": [0, 20, 40, 60, 80, 100], "title": null}}}},
    {"mark": {"type": "bar", "width": 2.4, "filled": false, "strokeWidth": 1, "clip": true},
     "encoding": {
       "x": {"field": "h", "type": "quantitative", "axis": {"values": [0, 24, 48, 72, 96, 120, 144], "labelExpr": "datum.value == 0 ? ['7APR', '2026'] : (7 + datum.value / 24) + 'APR'", "title": null}},
       "y": {"field": "ca", "type": "quantitative", "stack": null, "axis": {"values": [0, 20, 40, 60, 80, 100], "title": null}},
       "stroke": {"datum": "nuvens altas", "type": "nominal",
         "scale": {"domain": ["nuvens baixas", "nuvens medias", "nuvens altas"], "range": ["#2846ff", "#1fd21f", "#f58a3a"]},
         "legend": {"orient": "none", "legendX": 200, "legendY": -16, "direction": "horizontal", "title": null,
           "symbolType": "M-0.6,-1H0.6V1H-0.6Z", "symbolSize": 121, "symbolStrokeWidth": 1.5, "symbolFillColor": "transparent",
           "labelFontSize": 13, "labelOffset": 2, "columnPadding": 10, "labelLimit": 0,
           "labelColor": {"expr": "datum.value === 'nuvens baixas' ? '#2846ff' : datum.value === 'nuvens medias' ? '#1fd21f' : '#f58a3a'"}}}}},
    {"mark": {"type": "bar", "width": 2.4, "filled": false, "strokeWidth": 1, "clip": true},
     "encoding": {
       "x": {"field": "h", "type": "quantitative", "axis": {"values": [0, 24, 48, 72, 96, 120, 144], "labelExpr": "datum.value == 0 ? ['7APR', '2026'] : (7 + datum.value / 24) + 'APR'", "title": null}},
       "y": {"field": "cm", "type": "quantitative", "stack": null, "axis": {"values": [0, 20, 40, 60, 80, 100], "title": null}},
       "stroke": {"datum": "nuvens medias", "type": "nominal"}}},
    {"mark": {"type": "bar", "width": 2.4, "filled": false, "strokeWidth": 1, "clip": true},
     "encoding": {
       "x": {"field": "h", "type": "quantitative", "axis": {"values": [0, 24, 48, 72, 96, 120, 144], "labelExpr": "datum.value == 0 ? ['7APR', '2026'] : (7 + datum.value / 24) + 'APR'", "title": null}},
       "y": {"field": "cb", "type": "quantitative", "stack": null, "axis": {"values": [0, 20, 40, 60, 80, 100], "title": null}},
       "stroke": {"datum": "nuvens baixas", "type": "nominal"}}}
  ]
}
]
}
